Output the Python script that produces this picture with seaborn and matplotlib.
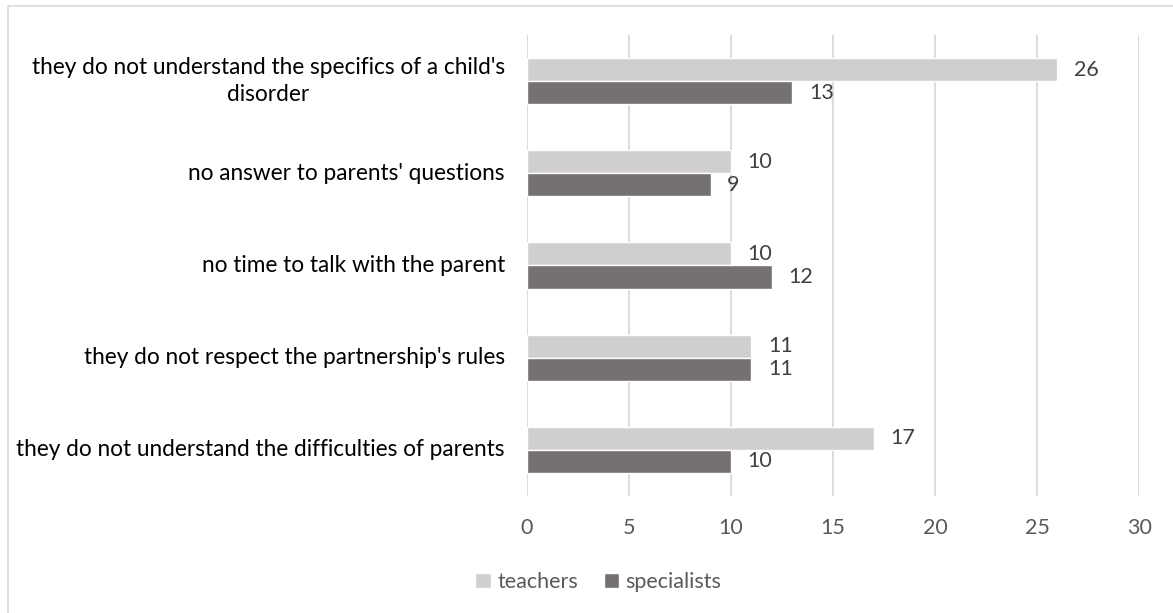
import matplotlib
matplotlib.use("Agg")
import matplotlib.pyplot as plt
from matplotlib.patches import Rectangle
import seaborn as sns
import pandas as pd

categories = [
    "they do not understand the specifics of a child's\ndisorder",
    "no answer to parents' questions",
    "no time to talk with the parent",
    "they do not respect the partnership's rules",
    "they do not understand the difficulties of parents",
]
teachers = [26, 10, 10, 11, 17]
specialists = [13, 9, 12, 11, 10]
series = ["teachers", "specialists"]
x_ticks = [0, 5, 10, 15, 20, 25, 30]

df = pd.DataFrame({
    "category": categories * 2,
    "group": [series[0]] * len(categories) + [series[1]] * len(categories),
    "value": teachers + specialists,
})

sns.set_theme(style="white")
plt.rcParams["font.family"] = "Lato"

DPI = 100
fig = plt.figure(figsize=(11.73, 6.13), dpi=DPI)
ax = fig.add_axes([0.4493, 0.1909, 0.5218, 0.752])

# chart frame
fig.patches.append(Rectangle((8 / 1173, -0.05), 1.1, 1 - 6 / 613 + 0.05,
                             transform=fig.transFigure, fill=False,
                             edgecolor="#D9D9D9", linewidth=1.2, zorder=0))

palette = {"teachers": "#D0CECE", "specialists": "#767171"}
sns.barplot(data=df, y="category", x="value", hue="group", order=categories,
            hue_order=series, palette=palette, orient="h", width=0.5,
            saturation=1, ax=ax, legend=True, zorder=3)

fs = 15.5
cat_fs = 16.3
for cont in ax.containers:
    ax.bar_label(cont, labels=[f"{int(v)}" for v in cont.datavalues],
                 padding=12, fontsize=fs, color="#404040")

ax.set_xlim(0, 30)
ax.set_ylim(len(categories) - 0.5, -0.5)
ax.set_xticks(x_ticks, labels=[str(t) for t in x_ticks])
ax.set_yticks(range(len(categories)), labels=[""] * len(categories))
ax.grid(axis="x", color="#D9D9D9", linewidth=1.3, zorder=0)
ax.grid(axis="y", visible=False)
for s in ax.spines.values():
    s.set_visible(False)
ax.set_xlabel("")
ax.set_ylabel("")
ax.tick_params(axis="x", length=0, pad=16, labelsize=fs, labelcolor="#595959")
ax.tick_params(axis="y", length=0)

# category labels: first line right-aligned to the axis, further lines
# centred under it
line_step = 19  # points between wrapped lines
for i, cat in enumerate(categories):
    lines = cat.split("\n")
    n = len(lines)
    first = ax.annotate(lines[0], xy=(0, i), xycoords=("axes fraction", "data"),
                        xytext=(-16, (n - 1) / 2 * line_step),
                        textcoords="offset points", ha="right", va="center",
                        fontsize=cat_fs, color="#000000")
    if n > 1:
        fig.canvas.draw()
        bb = first.get_window_extent()
        ax_left = ax.get_window_extent().x0
        x_off = ((bb.x0 + bb.x1) / 2 - ax_left) * 72 / DPI
        for k, line in enumerate(lines[1:], 1):
            ax.annotate(line, xy=(0, i), xycoords=("axes fraction", "data"),
                        xytext=(x_off, ((n - 1) / 2 - k) * line_step),
                        textcoords="offset points", ha="center", va="center",
                        fontsize=cat_fs, color="#000000")

handles, labels = ax.get_legend_handles_labels()
ax.get_legend().remove()
fig.legend(handles, labels, loc="center", bbox_to_anchor=(0.51, 0.05),
           ncol=2, frameon=False, fontsize=fs, labelcolor="#595959",
           handlelength=0.7, handleheight=0.7, handletextpad=0.3,
           columnspacing=1.2)

fig.savefig("out.png", dpi=DPI, facecolor="white")
